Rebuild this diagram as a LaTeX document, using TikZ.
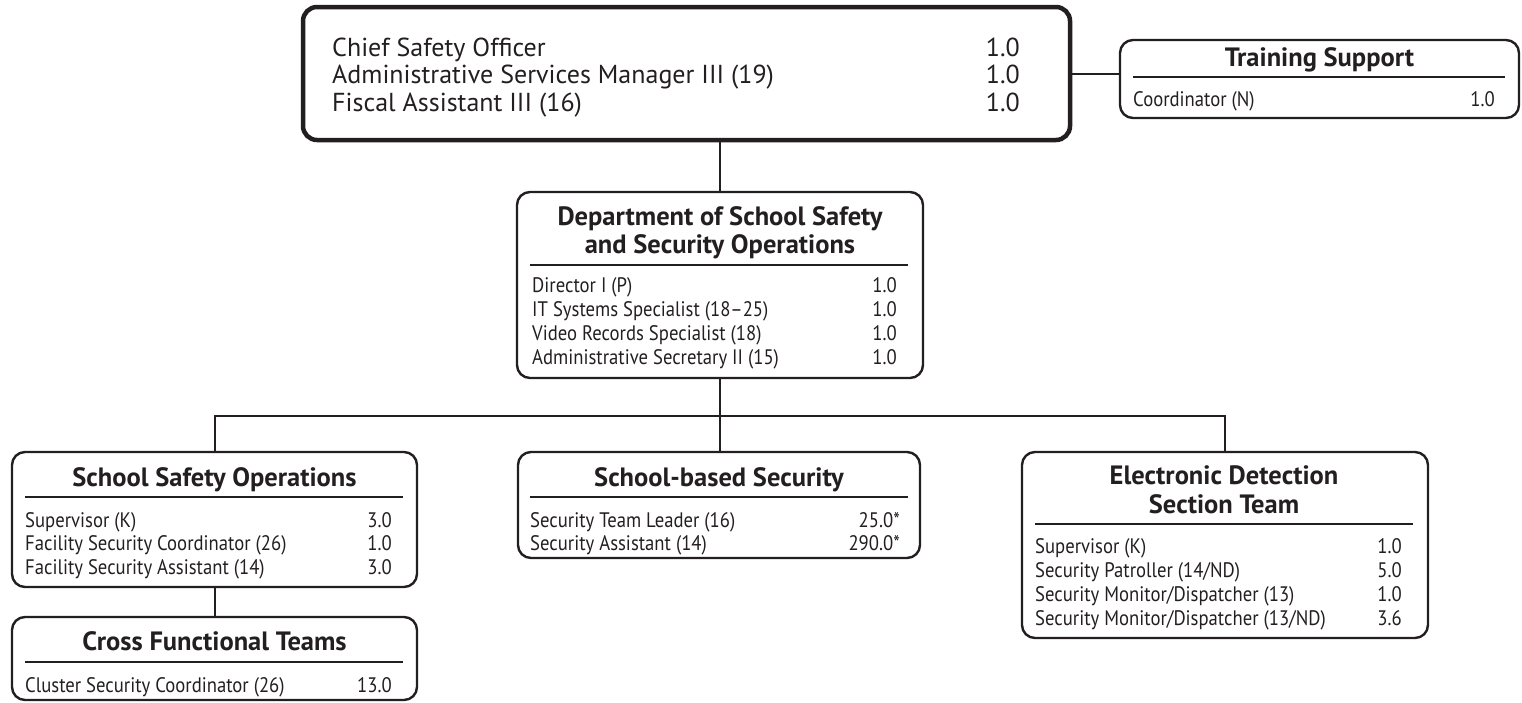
\documentclass[tikz,border=0pt]{standalone}
\usepackage{fontspec}
\setmainfont{PT Sans}
\newfontfamily\rowfont{PT Sans}[FakeStretch=0.89,Ligatures=TeX]
\definecolor{ink}{RGB}{35,31,32}
\tikzset{
  unit/.style={draw=ink,line width=2.4pt,rounded corners=13pt,inner sep=0pt},
  head/.style={draw=ink,line width=4.5pt,rounded corners=14pt,inner sep=0pt},
  ttl/.style={font=\fontsize{26.5}{30}\selectfont\bfseries,text=ink,inner sep=0pt,anchor=base},
  row/.style={font=\rowfont\fontsize{21}{25}\selectfont,text=ink,inner sep=0pt},
  big/.style={font=\fontsize{26}{30}\selectfont,text=ink,inner sep=0pt},
  link/.style={draw=ink,line width=2pt},
  rule/.style={draw=ink,line width=1.2pt}
}
\begin{document}
\begin{tikzpicture}[x=1pt,y=-1pt]
\useasboundingbox (0,0) rectangle (1522,702);
% boxes
\node[head,minimum width=767pt,minimum height=133pt] (top) at (686.5,73.5) {};
\node[unit,minimum width=399pt,minimum height=78pt] (trn) at (1319.5,79) {};
\node[unit,minimum width=406pt,minimum height=186pt] (dept) at (720,285) {};
\node[unit,minimum width=405pt,minimum height=135pt] (sso) at (214.5,519.5) {};
\node[unit,minimum width=405pt,minimum height=83pt] (cft) at (214.5,658.5) {};
\node[unit,minimum width=402pt,minimum height=106pt] (sb) at (719,505) {};
\node[unit,minimum width=406pt,minimum height=186pt] (edst) at (1225,545) {};
% office of the chief
\foreach \t/\v [count=\i] in {{Chief Safety Officer}/1.0,{Administrative Services Manager III (19)}/1.0,{Fiscal Assistant III (16)}/1.0}{
  \node[big,anchor=base west] (top-l\i) at (332,{28.5+27.5*\i}) {\t};
  \node[big,anchor=base east] (top-v\i) at (1020,{28.5+27.5*\i}) {\v};
}
% training support
\node[ttl] (trn-t) at (1319.5,66) {Training Support};
\draw[rule] (1133,77) -- (1505,77);
\node[row,anchor=base west] (trn-l1) at (1133,106) {Coordinator (N)};
\node[row,anchor=base east] (trn-v1) at (1495,106) {1.0};
% department
\node[ttl] (dept-t1) at (720,225) {Department of School Safety};
\node[ttl] (dept-t2) at (720,253) {and Security Operations};
\draw[rule] (530,265) -- (908,265);
\foreach \t/\v [count=\i] in {{Director I (P)}/1.0,{IT Systems Specialist (18–25)}/1.0,{Video Records Specialist (18)}/1.0,{Administrative Secretary II (15)}/1.0}{
  \node[row,anchor=base west] (dept-l\i) at (532,{267.7+24.3*\i}) {\t};
  \node[row,anchor=base east] (dept-v\i) at (897,{267.7+24.3*\i}) {\v};
}
% school safety operations
\node[ttl] (sso-t) at (214.5,486) {School Safety Operations};
\draw[rule] (25,497) -- (403,497);
\foreach \t/\v [count=\i] in {{Supervisor (K)}/3.0,{Facility Security Coordinator (26)}/1.0,{Facility Security Assistant (14)}/3.0}{
  \node[row,anchor=base west] (sso-l\i) at (25,{503.5+23.5*\i}) {\t};
  \node[row,anchor=base east] (sso-v\i) at (392,{503.5+23.5*\i}) {\v};
}
% cross functional teams
\node[ttl] (cft-t) at (214.5,650) {Cross Functional Teams};
\draw[rule] (25,662) -- (403,662);
\node[row,anchor=base west] (cft-l1) at (25,692) {Cluster Security Coordinator (26)};
\node[row,anchor=base east] (cft-v1) at (392,692) {13.0};
% school-based security
\node[ttl] (sb-t) at (719,486) {School-based Security};
\draw[rule] (530,497) -- (908,497);
\foreach \t/\v [count=\i] in {{Security Team Leader (16)}/25.0*,{Security Assistant (14)}/290.0*}{
  \node[row,anchor=base west] (sb-l\i) at (530,{503.5+23.5*\i}) {\t};
  \node[row,anchor=base east] (sb-v\i) at (900,{503.5+23.5*\i}) {\v};
}
% electronic detection
\node[ttl] (edst-t1) at (1224,484) {Electronic Detection};
\node[ttl] (edst-t2) at (1224,513) {Section Team};
\draw[rule] (1035,524) -- (1413,524);
\foreach \t/\v [count=\i] in {{Supervisor (K)}/1.0,{Security Patroller (14/ND)}/5.0,{Security Monitor/Dispatcher (13)}/1.0,{Security Monitor/Dispatcher (13/ND)}/3.6}{
  \node[row,anchor=base west] (edst-l\i) at (1035,{529+24*\i}) {\t};
  \node[row,anchor=base east] (edst-v\i) at (1402,{529+24*\i}) {\v};
}
% connectors
\coordinate (bus) at (720,416);
\draw[link] (top.east) -- (top.east -| trn.west);
\draw[link] (top.south -| dept.north) -- (dept.north);
\draw[link] (dept.south) -- (bus);
\draw[link] (sso.north) |- (bus) -| (edst.north);
\draw[link] (bus) -- (bus |- sb.north);
\draw[link] (sso.south) -- (cft.north);
\end{tikzpicture}
\end{document}
